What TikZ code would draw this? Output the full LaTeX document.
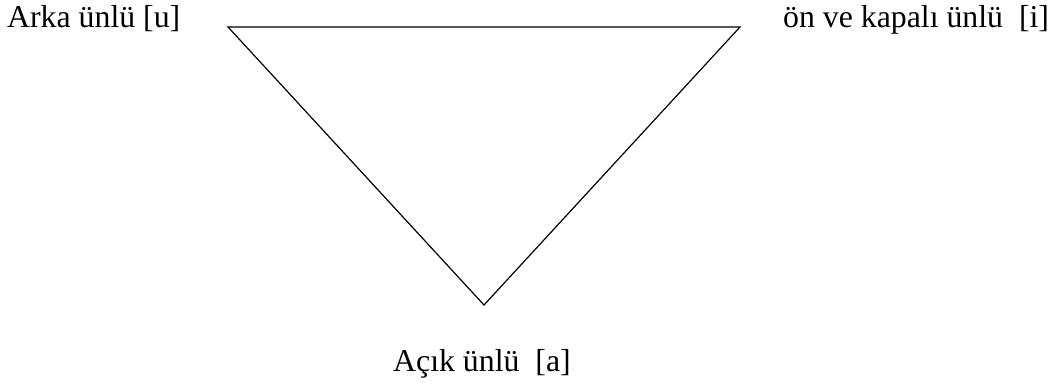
\documentclass[tikz,border=0pt]{standalone}
\usepackage{fontspec}
\setmainfont{Liberation Serif}
\usetikzlibrary{positioning}

\begin{document}
\begin{tikzpicture}[x=1pt,y=-1pt,
        vowel/.style={anchor=base west,inner sep=0pt,font=\fontsize{31.8}{36}\selectfont},
        edge/.style={line width=1.2pt,line join=miter}]
        \useasboundingbox (0,0) rectangle (1057,385);
        \coordinate (back) at (228,27);
        \coordinate (front) at (740,27);
        \coordinate (open) at (484,305);
        \node[vowel] (u) at (7,28) {Arka ünlü [u]};
        \node[vowel] (i) at (783,28) {ön ve kapalı ünlü~ [i]};
        \node[vowel] (a) at (393,371) {Açık ünlü~ [a]};
        \draw[edge] (back) -- (front) -- (open) -- cycle;
      \end{tikzpicture}
\end{document}
